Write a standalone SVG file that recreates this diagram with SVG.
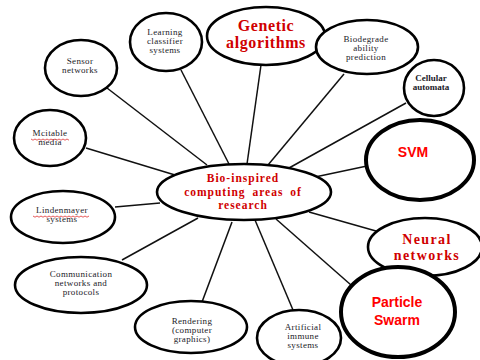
<svg xmlns="http://www.w3.org/2000/svg" width="480" height="360" viewBox="0 0 480 360">
<defs>
<style>
.n{fill:#fff;stroke:#000;stroke-width:2.6}
.t{fill:#fff;stroke:#000;stroke-width:4}
.c line{stroke:#111;stroke-width:1.5}
.s{font-family:"Liberation Serif","Times New Roman",serif;font-size:9px;letter-spacing:0.35px;fill:#1a1a28;text-anchor:middle}
.sb{font-family:"Liberation Serif","Times New Roman",serif;font-size:9px;font-weight:bold;fill:#1a1a28;text-anchor:middle}
.r{font-family:"Liberation Serif","Times New Roman",serif;font-weight:bold;fill:#d00000;text-anchor:middle}
.a{font-family:"Liberation Sans",Arial,sans-serif;font-weight:bold;font-size:14px;fill:#ff0000;text-anchor:middle}
.w{fill:none;stroke:#e03030;stroke-width:0.8}
</style>
</defs>
<rect width="480" height="360" fill="#fff"/>
<g id="connectors" class="c">
<line x1="107" y1="88" x2="207" y2="165"/>
<line x1="181" y1="70" x2="229" y2="164"/>
<line x1="86" y1="148" x2="175" y2="175"/>
<line x1="261" y1="65" x2="247" y2="164"/>
<line x1="344" y1="74" x2="268" y2="165"/>
<line x1="406" y1="103" x2="289" y2="168"/>
<line x1="367" y1="166" x2="315" y2="177"/>
<line x1="309" y1="212" x2="376" y2="231"/>
<line x1="276" y1="219" x2="351" y2="285"/>
<line x1="255" y1="220" x2="293" y2="310"/>
<line x1="232" y1="222" x2="202" y2="302"/>
<line x1="198" y1="218" x2="122" y2="260"/>
<line x1="115" y1="207" x2="160" y2="203"/>
</g>
<g id="center">
<ellipse class="n" cx="244" cy="192" rx="87" ry="28"/>
<text class="r" font-size="11.5" letter-spacing="1"><tspan x="243" y="182">Bio-inspired</tspan><tspan x="243" y="195.5" word-spacing="3">computing areas of</tspan><tspan x="243" y="209">research</tspan></text>
</g>
<g id="sensor">
<ellipse class="n" cx="81" cy="68" rx="36" ry="28"/>
<text class="s"><tspan x="80" y="64">Sensor</tspan><tspan x="80" y="73">networks</tspan></text>
</g>
<g id="learning">
<ellipse class="n" cx="166" cy="42" rx="36" ry="29"/>
<text class="s"><tspan x="165" y="35">Learning</tspan><tspan x="165" y="44">classifier</tspan><tspan x="165" y="53">systems</tspan></text>
</g>
<g id="genetic">
<ellipse class="n" cx="266" cy="36" rx="59" ry="29"/>
<text class="r" font-size="16" letter-spacing="0.6"><tspan x="266" y="31">Genetic</tspan><tspan x="266" y="48">algorithms</tspan></text>
</g>
<g id="biodegrade">
<ellipse class="n" cx="367" cy="47" rx="51" ry="27"/>
<text class="s"><tspan x="366" y="42">Biodegrade</tspan><tspan x="366" y="51">ability</tspan><tspan x="366" y="60">prediction</tspan></text>
</g>
<g id="cellular">
<ellipse class="n" cx="434" cy="88" rx="30" ry="28"/>
<text class="sb"><tspan x="431" y="81">Cellular</tspan><tspan x="431" y="90">automata</tspan></text>
</g>
<g id="mcitable">
<ellipse class="n" cx="50" cy="138" rx="36" ry="28"/>
<text class="s"><tspan x="50" y="136">Mcitable</tspan><tspan x="50" y="145">media</tspan></text>
<path class="w" d="M31 139 l2 1.2 l2 -1.2 l2 1.2 l2 -1.2 l2 1.2 l2 -1.2 l2 1.2 l2 -1.2 l2 1.2 l2 -1.2 l2 1.2 l2 -1.2 l2 1.2 l2 -1.2 l2 1.2 l2 -1.2 l2 1.2 l2 -1.2 l2 1.2"/>
</g>
<g id="svm">
<ellipse class="t" cx="420" cy="160" rx="54" ry="40"/>
<text class="a" x="413" y="157">SVM</text>
</g>
<g id="lindenmayer">
<ellipse class="n" cx="63" cy="217" rx="52" ry="26"/>
<text class="s"><tspan x="62" y="213">Lindenmayer</tspan><tspan x="62" y="222">systems</tspan></text>
<path class="w" d="M33 216 l2 1.2 l2 -1.2 l2 1.2 l2 -1.2 l2 1.2 l2 -1.2 l2 1.2 l2 -1.2 l2 1.2 l2 -1.2 l2 1.2 l2 -1.2 l2 1.2 l2 -1.2 l2 1.2 l2 -1.2 l2 1.2 l2 -1.2 l2 1.2 l2 -1.2 l2 1.2 l2 -1.2 l2 1.2 l2 -1.2 l2 1.2 l2 -1.2 l2 1.2 l2 -1.2"/>
</g>
<g id="communication">
<ellipse class="n" cx="81" cy="285" rx="66" ry="28"/>
<text class="s"><tspan x="81" y="277">Communication</tspan><tspan x="81" y="286">networks and</tspan><tspan x="81" y="295">protocols</tspan></text>
</g>
<g id="rendering">
<ellipse class="n" cx="191" cy="327" rx="56" ry="26"/>
<text class="s"><tspan x="192" y="324">Rendering</tspan><tspan x="192" y="333">(computer</tspan><tspan x="192" y="342">graphics)</tspan></text>
</g>
<g id="artificial">
<ellipse class="n" cx="299" cy="338" rx="42" ry="28"/>
<text class="s"><tspan x="303" y="330">Artificial</tspan><tspan x="303" y="339">immune</tspan><tspan x="303" y="348">systems</tspan></text>
</g>
<g id="neural">
<ellipse class="n" cx="425" cy="247" rx="57" ry="29"/>
<text class="r" font-size="14" letter-spacing="1.4"><tspan x="427" y="244">Neural</tspan><tspan x="427" y="260">networks</tspan></text>
</g>
<g id="particle">
<ellipse class="t" cx="398" cy="312" rx="57" ry="45"/>
<text class="a"><tspan x="397" y="307">Particle</tspan><tspan x="397" y="325">Swarm</tspan></text>
</g>
</svg>
